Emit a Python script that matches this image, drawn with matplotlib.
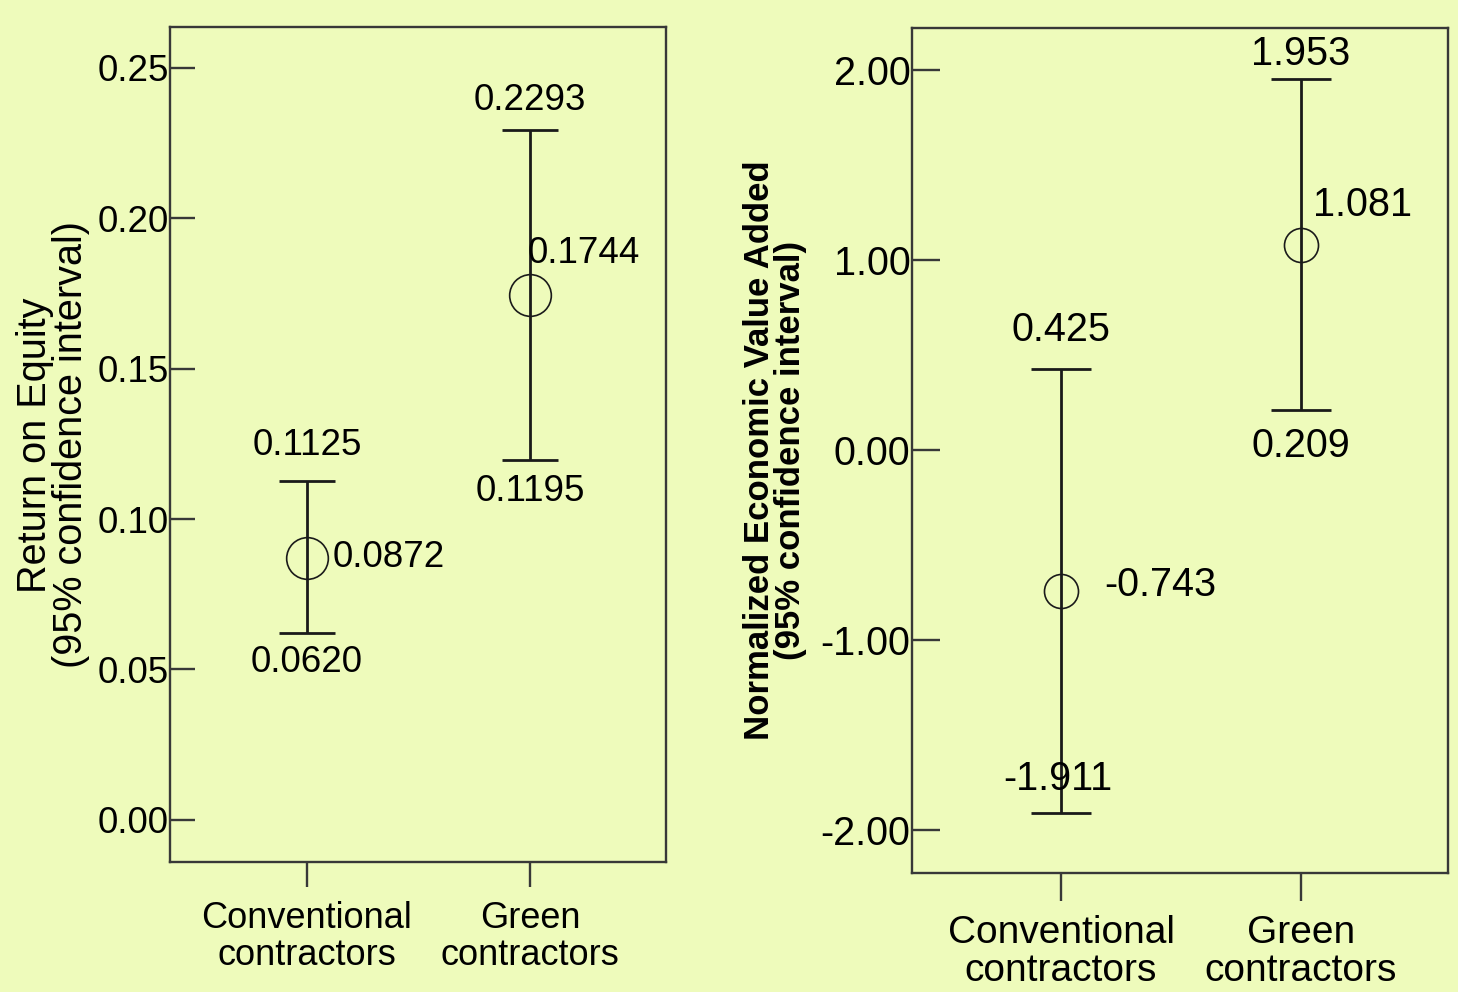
import matplotlib

matplotlib.use("Agg")
import matplotlib.pyplot as plt
from matplotlib.ticker import FuncFormatter

plt.rcParams["font.family"] = ["Liberation Sans", "DejaVu Sans"]

groups = ["Conventional\ncontractors", "Green\ncontractors"]

roe_mean = [0.0872, 0.1744]
roe_lower = [0.0620, 0.1195]
roe_upper = [0.1125, 0.2293]
roe_ticks = [0.00, 0.05, 0.10, 0.15, 0.20, 0.25]

eva_mean = [-0.743, 1.081]
eva_lower = [-1.911, 0.209]
eva_upper = [0.425, 1.953]
eva_ticks = [-2.0, -1.0, 0.0, 1.0, 2.0]

BG = "#EEFBBB"
INK = "#1a1a1a"
SPINE = "#383838"


def draw_panel(ax, mean, lower, upper, ticks, ylim, xlim, decimals, style):
    x = list(range(len(mean)))
    yerr = [[m - lo for m, lo in zip(mean, lower)], [hi - m for m, hi in zip(mean, upper)]]
    ax.errorbar(x, mean, yerr=yerr, fmt="none", ecolor=INK, elinewidth=2.0,
                capsize=style["cap"], capthick=2.0, zorder=2)
    ax.plot(x, mean, linestyle="none", marker="o", markersize=style["ms"],
            markerfacecolor="none", markeredgecolor=INK, markeredgewidth=1.2, zorder=3)

    fs = style["fs"]
    for i in x:
        ax.annotate(f"{upper[i]:.{decimals}f}", (i, upper[i]), xytext=style["up"][i],
                    textcoords="offset pixels", ha="center", va="center", fontsize=fs)
        ax.annotate(f"{lower[i]:.{decimals}f}", (i, lower[i]), xytext=style["lo"][i],
                    textcoords="offset pixels", ha="center", va="center", fontsize=fs)
        ax.annotate(f"{mean[i]:.{decimals}f}", (i, mean[i]), xytext=style["mid"][i],
                    textcoords="offset pixels", ha="left", va="center", fontsize=fs)

    ax.set_xlim(*xlim)
    ax.set_ylim(*ylim)
    ax.set_yticks(ticks)
    ax.yaxis.set_major_formatter(FuncFormatter(lambda v, _: f"{v:.2f}".replace("\u2212", "-")))
    ax.set_xticks(x)
    ax.set_xticklabels(groups, fontsize=style["xfs"], linespacing=1.08)
    ax.tick_params(axis="y", direction="in", length=style["tick"], width=1.7,
                   color=SPINE, labelsize=fs, pad=1)
    ax.tick_params(axis="x", direction="out", length=style["tick"], width=1.7,
                   color=SPINE, pad=10)
    ax.set_facecolor(BG)
    for sp in ax.spines.values():
        sp.set_color(SPINE)
        sp.set_linewidth(1.7)


fig = plt.figure(figsize=(14.58, 9.92), dpi=100, facecolor=BG)

ax1 = fig.add_axes([170 / 1458, 130 / 992, 496 / 1458, 835 / 992])
draw_panel(
    ax1, roe_mean, roe_lower, roe_upper, roe_ticks,
    ylim=(-0.014, 0.2636), xlim=(-0.614, 1.61), decimals=4,
    style=dict(cap=20.5, ms=30, fs=26.5, xfs=26, tick=18,
               up=[(0, 36), (0, 30)], lo=[(0, -29), (0, -31)],
               mid=[(26, 0), (-2, 42)]),
)
fig.text(53 / 1458, 1 - 445 / 992, "Return on Equity\n(95% confidence interval)",
         rotation=90, ha="center", va="center", multialignment="center",
         fontsize=28.5, linespacing=0.95)

ax2 = fig.add_axes([912 / 1458, 119 / 992, 536 / 1458, 845 / 992])
draw_panel(
    ax2, eva_mean, eva_lower, eva_upper, eva_ticks,
    ylim=(-2.226, 2.221), xlim=(-0.621, 1.6125), decimals=3,
    style=dict(cap=21.6, ms=24.5, fs=28.5, xfs=28, tick=20,
               up=[(0, 39), (0, 25)], lo=[(-3, 34), (0, -36)],
               mid=[(43, 6), (12, 40)]),
)
fig.text(775 / 1458, 1 - 450 / 992, "Normalized Economic Value Added\n(95% confidence interval)",
         rotation=90, ha="center", va="center", multialignment="center",
         fontsize=25, fontweight="bold", linespacing=0.95)

fig.savefig("out.png", dpi=100, facecolor=BG)
plt.close(fig)
